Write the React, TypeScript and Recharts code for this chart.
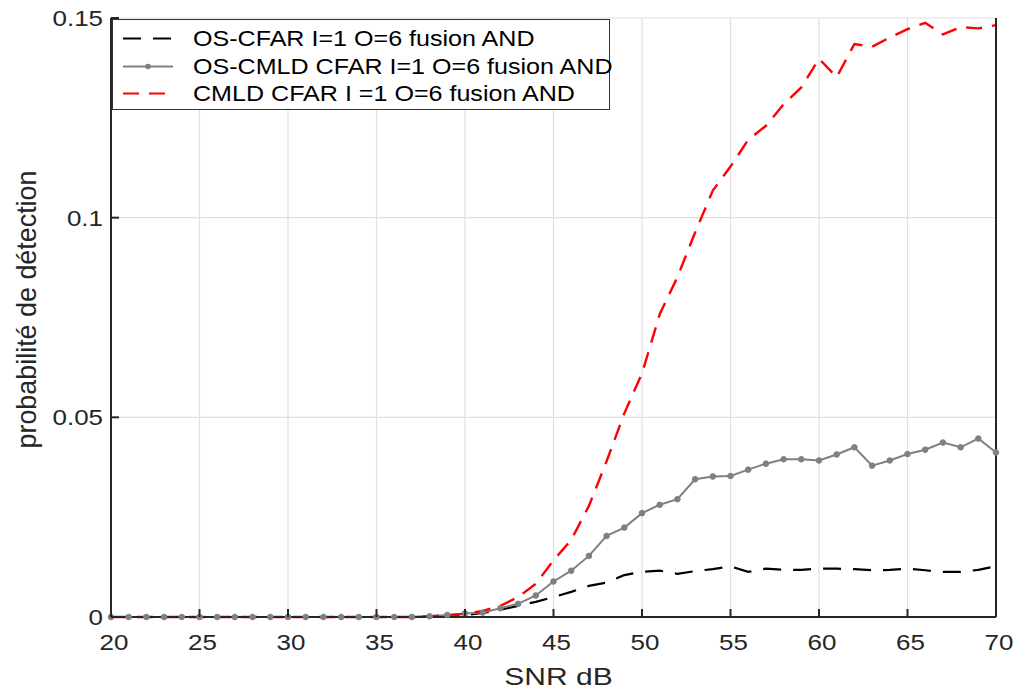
import React from 'react';
import { LineChart, Line, XAxis, YAxis, CartesianGrid } from 'recharts';

const snr = [20,21,22,23,24,25,26,27,28,29,30,31,32,33,34,35,36,37,38,39,40,41,42,43,44,45,46,47,48,49,50,51,52,53,54,55,56,57,58,59,60,61,62,63,64,65,66,67,68,69,70];
const osCfar = [0,0,0,0,0,0,0,0,0,0,0,0,0,0,0,0,0,0,0.0001,0.0003,0.0005,0.001,0.0018,0.0028,0.0038,0.005,0.0063,0.0078,0.0086,0.0105,0.0113,0.0116,0.0108,0.0115,0.012,0.0127,0.0113,0.0121,0.0118,0.0118,0.0121,0.0121,0.012,0.0117,0.0118,0.0121,0.0117,0.0113,0.0113,0.0118,0.0127];
const osCmld = [0,0,0,0,0,0,0,0,0,0,0,0,0,0,0,0,0,0,0.0002,0.0005,0.0009,0.0011,0.0022,0.0033,0.0054,0.0089,0.0116,0.0153,0.0203,0.0224,0.026,0.0281,0.0295,0.0345,0.0352,0.0353,0.0369,0.0384,0.0395,0.0395,0.0392,0.0407,0.0425,0.0379,0.0392,0.0408,0.0419,0.0437,0.0425,0.0447,0.0412];
const cmld = [0,0,0,0,0,0,0,0,0,0,0,0,0,0,0,0,0,0,0.0002,0.0004,0.0008,0.0015,0.0028,0.005,0.0083,0.0142,0.0193,0.0278,0.039,0.051,0.061,0.0758,0.0851,0.0963,0.1068,0.1128,0.1195,0.123,0.1284,0.1326,0.1398,0.1352,0.1435,0.1428,0.1451,0.1472,0.1488,0.1459,0.1477,0.1474,0.1482];

const xTicks = [20,25,30,35,40,45,50,55,60,65,70];
const yTicks = [0,0.05,0.1,0.15];
const yTickLabels: Record<string,string> = { '0': '0', '0.05': '0.05', '0.1': '0.1', '0.15': '0.15' };
const seriesNames = ['OS-CFAR I=1 O=6 fusion AND', 'OS-CMLD CFAR I=1 O=6 fusion AND', 'CMLD CFAR I =1 O=6 fusion AND'];
const xLabel = 'SNR dB';
const yLabel = 'probabilité de détection';

const data = snr.map((s, i) => ({ snr: s, osCfar: osCfar[i], osCmld: osCmld[i], cmld: cmld[i] }));

const FONT = '"Liberation Sans", Arial, Helvetica, sans-serif';
const AX = '#262626';

const BottomTick = (p: any) => {
  const { x, y, payload } = p;
  return (
    <g>
      <line x1={x} y1={y} x2={x} y2={y - 8} stroke={AX} strokeWidth={2} />
      <text transform={`translate(${x + 3},${y + 33}) scale(1.18,1)`} textAnchor="middle" fontSize={22} fill={AX} fontFamily={FONT}>{payload.value}</text>
    </g>
  );
};
const TopTick = (p: any) => {
  const { x, y } = p;
  return <line x1={x} y1={y} x2={x} y2={y + 8} stroke={AX} strokeWidth={2} />;
};
const LeftTick = (p: any) => {
  const { x, y, payload } = p;
  const key = String(Math.round(payload.value * 100) / 100);
  return (
    <g>
      <line x1={x} y1={y} x2={x + 8} y2={y} stroke={AX} strokeWidth={2} />
      <text transform={`translate(${x - 8},${y + 8}) scale(1.18,1)`} textAnchor="end" fontSize={22} fill={AX} fontFamily={FONT}>{yTickLabels[key] ?? key}</text>
    </g>
  );
};
const RightTick = (p: any) => {
  const { x, y } = p;
  return <line x1={x} y1={y} x2={x - 8} y2={y} stroke={AX} strokeWidth={2} />;
};

const XLabel = (p: any) => {
  const vb = p.viewBox;
  return (
    <text transform={`translate(${vb.x + vb.width / 2 + 5},${vb.y + 68}) scale(1.25,1)`} textAnchor="middle" fontSize={24} fill={AX} fontFamily={FONT}>{xLabel}</text>
  );
};
const YLabel = (p: any) => {
  const vb = p.viewBox;
  const cy = vb.y + vb.height / 2 - 8;
  return (
    <text transform={`translate(26,${cy}) rotate(-90) scale(1,1.15)`} textAnchor="middle" dominantBaseline="central" fontSize={24} fill={AX} fontFamily={FONT} textLength={278} lengthAdjust="spacingAndGlyphs">{yLabel}</text>
  );
};

const legendStyles = [
  { color: '#000000', dash: '18 12', dot: false, width: 2.2 },
  { color: '#808080', dash: undefined, dot: true, width: 2 },
  { color: '#ff0000', dash: '16 10', dot: false, width: 2.2 },
];

export default function App() {
  return (
    <div style={{ position: 'absolute', left: 0, top: 0, width: 1019, height: 693, background: '#fff' }}>
      <LineChart width={1019} height={693} data={data} margin={{ top: 18, right: 0, bottom: 0, left: 0 }}>
        <CartesianGrid stroke="#e0e0e0" strokeWidth={1.2} />
        <XAxis dataKey="snr" type="number" domain={[20, 70]} ticks={xTicks} height={76} tickSize={0} tickMargin={0} stroke={AX} strokeWidth={2} tick={BottomTick} label={{ content: XLabel }} interval={0} />
        <XAxis xAxisId="top" dataKey="snr" type="number" domain={[20, 70]} ticks={xTicks} orientation="top" height={0} tickSize={0} tickMargin={0} stroke={AX} strokeWidth={2} tick={TopTick} interval={0} />
        <YAxis type="number" domain={[0, 0.15]} ticks={yTicks} width={111} tickSize={0} tickMargin={0} stroke={AX} strokeWidth={2} tick={LeftTick} label={{ content: YLabel }} interval={0} />
        <YAxis yAxisId="right" orientation="right" type="number" domain={[0, 0.15]} ticks={yTicks} width={23} tickSize={0} tickMargin={0} stroke={AX} strokeWidth={2} tick={RightTick} interval={0} />
        <Line dataKey="osCfar" name={seriesNames[0]} stroke="#000000" strokeWidth={2.2} strokeDasharray="18 12" dot={false} isAnimationActive={false} />
        <Line dataKey="osCmld" name={seriesNames[1]} stroke="#808080" strokeWidth={2} dot={{ r: 2.8, fill: '#808080', stroke: '#808080', strokeWidth: 1 }} isAnimationActive={false} />
        <Line dataKey="cmld" name={seriesNames[2]} stroke="#ff0000" strokeWidth={2.4} strokeDasharray="16 10" dot={false} isAnimationActive={false} />
      </LineChart>
      <div style={{ position: 'absolute', left: 112, top: 19, width: 498, height: 91, border: '1.5px solid #333', background: '#fff', boxSizing: 'border-box' }}>
        {seriesNames.map((n, i) => (
          <div key={n} style={{ position: 'absolute', left: 0, top: 5 + i * 27.5, height: 27, width: 496 }}>
            <svg width={52} height={27} style={{ position: 'absolute', left: 9, top: 0 }}>
              <line x1={1} y1={13.5} x2={51} y2={13.5} stroke={legendStyles[i].color} strokeWidth={legendStyles[i].width} strokeDasharray={legendStyles[i].dash} />
              {legendStyles[i].dot && <circle cx={26} cy={13.5} r={2.8} fill={legendStyles[i].color} />}
            </svg>
            <span style={{ position: 'absolute', left: 80, top: 0, lineHeight: '27px', fontSize: 22, fontFamily: FONT, color: '#000', whiteSpace: 'nowrap', transform: 'scaleX(1.14)', transformOrigin: 'left center' }}>{n}</span>
          </div>
        ))}
      </div>
    </div>
  );
}
